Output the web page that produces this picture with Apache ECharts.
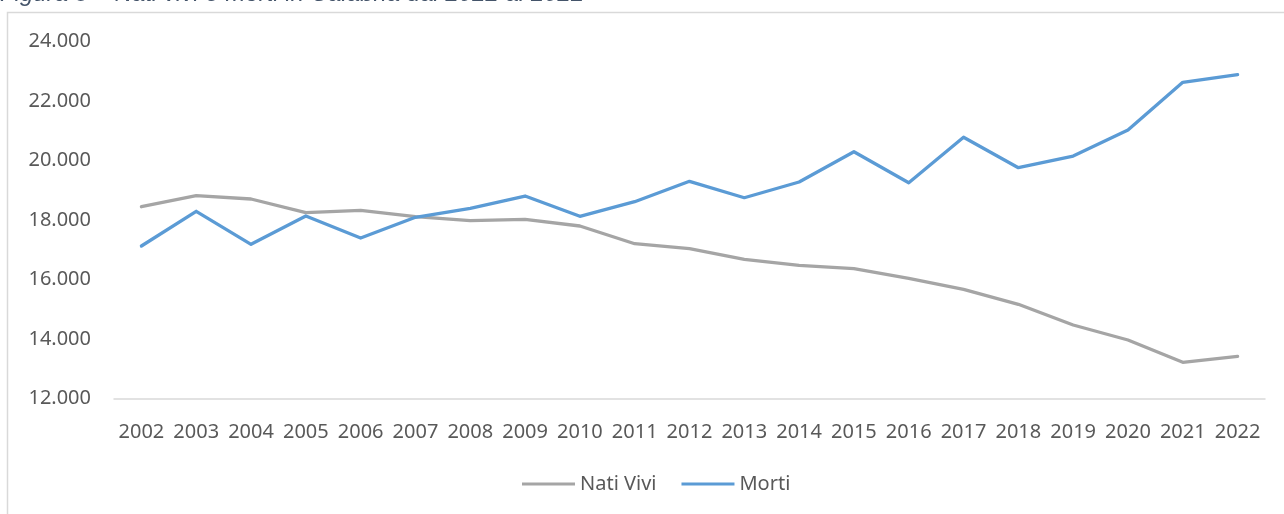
<!DOCTYPE html>
<html>
<head>
<meta charset="utf-8">
<script src="https://cdn.jsdelivr.net/npm/echarts@6/dist/echarts.min.js"></script>
<style>
  html, body { margin: 0; padding: 0; background: #fff; }
  #chart { width: 1284px; height: 514px; }
</style>
</head>
<body>
<div id="chart"></div>
<script>
const anni = ['2002', '2003', '2004', '2005', '2006', '2007', '2008', '2009', '2010', '2011', '2012',
  '2013', '2014', '2015', '2016', '2017', '2018', '2019', '2020', '2021', '2022']
const natiVivi = [18447, 18818, 18706, 18245, 18326, 18111, 17976, 18023, 17798, 17202, 17034,
  16677, 16475, 16361, 16038, 15668, 15163, 14467, 13962, 13211, 13413]
const morti = [17125, 18293, 17182, 18134, 17394, 18091, 18394, 18807, 18124, 18616, 19302,
  18750, 19279, 20298, 19255, 20783, 19760, 20153, 21028, 22633, 22889]
const titolo = 'Figura 8 – Nati vivi e morti in Calabria dal 2022 al 2022'

const font = '"Noto Sans", sans-serif'
const testo = '#595959'

const myChart = echarts.init(document.getElementById('chart'))

const options = {
  animation: false,
  textStyle: { fontFamily: font },
  graphic: [
    {
      type: 'rect',
      silent: true,
      shape: { x: 7.5, y: 12.5, width: 1320, height: 540 },
      style: { fill: 'none', stroke: '#D9D9D9', lineWidth: 1.5 }
    },
    {
      type: 'text',
      left: 0,
      top: -18,
      silent: true,
      style: {
        text: titolo,
        font: 'italic 24px "Liberation Sans", Arial, sans-serif',
        fill: '#44546A'
      }
    }
  ],
  grid: {
    left: 114,
    right: 19,
    top: 41.7,
    bottom: 115.7
  },
  legend: {
    data: ['Nati Vivi', 'Morti'],
    bottom: 15,
    left: 517,
    icon: 'rect',
    itemWidth: 53,
    itemHeight: 3,
    itemGap: 25,
    textStyle: { color: testo, fontSize: 20, fontFamily: font }
  },
  xAxis: {
    type: 'category',
    data: anni,
    boundaryGap: true,
    axisLine: { lineStyle: { color: '#D9D9D9', width: 1.5 } },
    axisTick: { show: false },
    axisLabel: { color: testo, fontSize: 20, margin: 24, interval: 0 }
  },
  yAxis: {
    type: 'value',
    min: 12000,
    max: 24000,
    interval: 2000,
    splitLine: { show: false },
    axisLine: { show: false },
    axisTick: { show: false },
    axisLabel: {
      color: testo,
      fontSize: 20,
      margin: 23,
      formatter: v => v.toString().replace(/\B(?=(\d{3})+(?!\d))/g, '.')
    }
  },
  series: [
    {
      name: 'Nati Vivi',
      type: 'line',
      data: natiVivi,
      symbol: 'none',
      color: '#A5A5A5',
      lineStyle: { width: 3.3, cap: 'round', join: 'round' }
    },
    {
      name: 'Morti',
      type: 'line',
      data: morti,
      symbol: 'none',
      color: '#5B9BD5',
      lineStyle: { width: 3.3, cap: 'round', join: 'round' }
    }
  ]
}

myChart.setOption(options)
window.addEventListener('resize', () => {
  myChart.resize()
})
</script>
</body>
</html>
